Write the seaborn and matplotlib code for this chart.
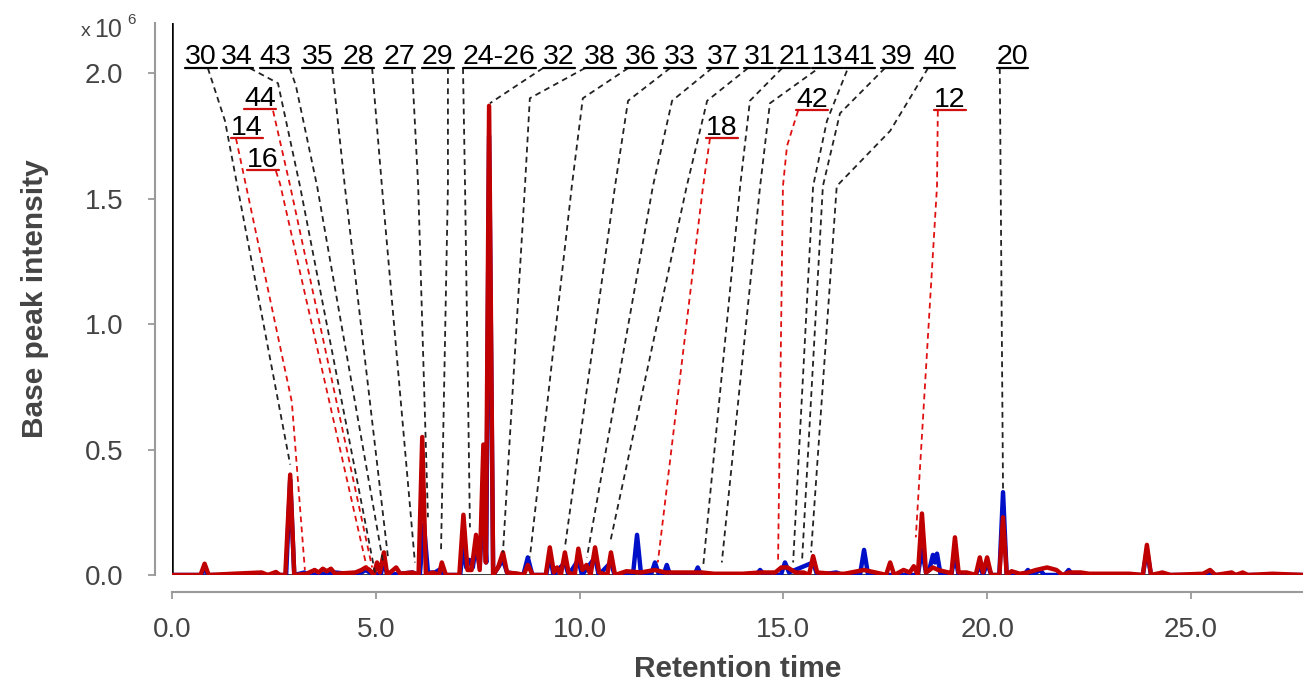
import matplotlib
matplotlib.use("Agg")
import matplotlib.pyplot as plt
import numpy as np
import pandas as pd
import seaborn as sns

# ---------------- data (intensity in 1e6) ----------------
red_time = [0.0, 0.70, 0.80, 0.90, 1.5, 2.2, 2.35, 2.55, 2.65, 2.78, 2.90, 3.00, 3.3, 3.50, 3.60, 3.70,
            3.80, 3.90, 4.00, 4.50, 4.65, 4.75, 4.85, 4.95, 5.03, 5.10, 5.20, 5.28, 5.50, 5.60, 5.90,
            6.05, 6.14, 6.23, 6.40, 6.55, 6.62, 6.72, 7.05, 7.15, 7.25, 7.35, 7.46, 7.55, 7.64, 7.70,
            7.78, 7.88, 8.00, 8.12, 8.22, 8.50, 8.63, 8.73, 8.85, 9.05, 9.17, 9.27, 9.37, 9.45, 9.54,
            9.64, 9.73, 9.88, 9.97, 10.07, 10.17, 10.27, 10.38, 10.48, 10.68, 10.77, 10.87, 11.15,
            11.5, 11.85, 12.1, 12.5, 13.0, 13.3, 14.0, 14.43, 14.8, 14.95, 15.1, 15.3, 15.5, 15.63,
            15.73, 15.83, 16.2, 16.5, 16.98, 17.4, 17.52, 17.62, 17.72, 17.95, 18.1, 18.2, 18.3,
            18.40, 18.50, 18.67, 18.8, 19.05, 19.12, 19.21, 19.3, 19.5, 19.72, 19.82, 19.9, 20.00,
            20.1, 20.3, 20.39, 20.48, 20.6, 20.8, 21.0, 21.2, 21.47, 21.7, 21.85, 22.0, 22.3, 22.5,
            23.5, 23.82, 23.92, 24.02, 24.3, 24.5, 25.3, 25.47, 25.6, 26.0, 26.1, 26.27, 26.4,
            27.0, 27.8]
red_int = [0.0, 0.0, 0.045, 0.0, 0.005, 0.01, 0.0, 0.012, 0.0, 0.0, 0.40, 0.0, 0.005, 0.02, 0.01, 0.025,
           0.015, 0.025, 0.005, 0.01, 0.02, 0.03, 0.02, 0.0, 0.05, 0.01, 0.09, 0.0, 0.03, 0.005, 0.01,
           0.0, 0.55, 0.0, 0.01, 0.0, 0.05, 0.0, 0.0, 0.24, 0.02, 0.02, 0.16, 0.02, 0.52, 0.05,
           1.87, 0.0, 0.03, 0.09, 0.01, 0.005, 0.0, 0.04, 0.0, 0.0, 0.0, 0.11, 0.01, 0.03, 0.0,
           0.09, 0.01, 0.0, 0.105, 0.02, 0.04, 0.0, 0.11, 0.01, 0.0, 0.09, 0.0, 0.015,
           0.01, 0.02, 0.01, 0.01, 0.01, 0.005, 0.005, 0.01, 0.01, 0.03, 0.03, 0.01, 0.01, 0.0,
           0.075, 0.01, 0.005, 0.005, 0.02, 0.005, 0.0, 0.05, 0.0, 0.02, 0.01, 0.035, 0.0,
           0.245, 0.01, 0.03, 0.02, 0.01, 0.0, 0.15, 0.01, 0.01, 0.0, 0.07, 0.01, 0.07,
           0.0, 0.0, 0.23, 0.0, 0.015, 0.005, 0.01, 0.02, 0.03, 0.02, 0.0, 0.01, 0.01, 0.005,
           0.005, 0.0, 0.12, 0.0, 0.01, 0.0, 0.005, 0.02, 0.0, 0.01, 0.0, 0.01, 0.0,
           0.005, 0.0]

blue_time = [0.0, 0.72, 0.80, 0.88, 2.80, 2.90, 3.00, 3.25, 3.35, 4.0, 4.3, 4.65, 4.75, 4.85, 5.12,
             5.20, 5.28, 5.9, 6.08, 6.18, 6.28, 6.45, 6.55, 6.65, 7.07, 7.15, 7.22, 7.30, 7.38, 7.46,
             7.55, 7.64, 7.71, 7.78, 7.88, 8.12, 8.22, 8.62, 8.73, 8.84, 9.18, 9.27, 9.36, 9.64, 9.73,
             9.97, 10.06, 10.38, 10.47, 10.77, 10.86, 11.31, 11.41, 11.51, 11.75, 11.85, 11.95, 12.06,
             12.14, 12.22, 12.82, 12.90, 12.98, 14.33, 14.43, 14.53, 14.94, 15.04, 15.14, 15.73, 15.83,
             16.3, 16.45, 16.88, 16.98, 17.08, 18.30, 18.40, 18.50, 18.58, 18.67, 18.72, 18.77, 18.86,
             19.12, 19.21, 19.30, 19.72, 19.82, 19.9, 20.0, 20.1, 20.30, 20.39, 20.48, 20.9, 21.0,
             21.1, 21.2, 21.3, 21.4, 21.9, 22.0, 22.1, 23.82, 23.92, 24.02, 25.37, 25.47, 25.57, 27.8]
blue_int = [0.0, 0.0, 0.03, 0.0, 0.0, 0.38, 0.0, 0.01, 0.0, 0.01, 0.005, 0.01, 0.02, 0.01, 0.0,
            0.06, 0.0, 0.01, 0.0, 0.20, 0.01, 0.01, 0.02, 0.0, 0.0, 0.12, 0.03, 0.06, 0.03, 0.12,
            0.03, 0.31, 0.05, 1.75, 0.0, 0.06, 0.01, 0.0, 0.07, 0.0, 0.0, 0.08, 0.0, 0.05, 0.0,
            0.06, 0.0, 0.07, 0.0, 0.05, 0.0, 0.0, 0.16, 0.0, 0.0, 0.05, 0.0, 0.0,
            0.04, 0.0, 0.0, 0.03, 0.0, 0.0, 0.02, 0.0, 0.0, 0.05, 0.01, 0.05, 0.0,
            0.01, 0.0, 0.0, 0.10, 0.0, 0.0, 0.10, 0.01, 0.02, 0.08, 0.05, 0.085, 0.0,
            0.0, 0.08, 0.0, 0.0, 0.04, 0.0, 0.05, 0.0, 0.0, 0.33, 0.0, 0.0, 0.02,
            0.0, 0.01, 0.02, 0.0, 0.0, 0.02, 0.0, 0.0, 0.10, 0.0, 0.0, 0.015, 0.0, 0.0]

x_ticks = [0, 5, 10, 15, 20, 25]
x_tick_labels = ["0.0", "5.0", "10.0", "15.0", "20.0", "25.0"]
y_ticks = [0.0, 0.5, 1.0, 1.5, 2.0]
y_tick_labels = ["0.0", "0.5", "1.0", "1.5", "2.0"]

# top row compound labels (centre time) -> leader polylines (time, intensity)
top_labels = ["30", "34", "43", "35", "28", "27", "29", "24-26", "32", "38", "36", "33", "37",
              "31", "21", "13", "41", "39", "40", "20"]
top_label_x = [0.71, 1.60, 2.54, 3.57, 4.57, 5.58, 6.52, 8.03, 9.50, 10.50, 11.50, 12.47, 13.51,
               14.43, 15.26, 16.08, 16.87, 17.78, 18.83, 20.62]
top_leaders = [
    [(0.88, 2.02), (1.30, 1.81), (2.90, 0.44)],
    [(1.91, 2.02), (2.60, 1.96), (3.14, 1.55), (4.98, 0.01)],
    [(2.89, 2.02), (3.04, 1.95), (3.56, 1.55), (5.18, 0.05)],
    [(3.93, 2.02), (4.24, 1.55), (5.30, 0.07)],
    [(4.91, 2.02), (5.15, 1.55), (5.96, 0.05)],
    [(5.89, 2.02), (6.04, 1.55), (6.28, 0.23)],
    [(6.77, 2.02), (6.77, 1.55), (6.60, 0.09)],
    [(7.14, 2.02), (7.19, 1.55), (7.31, 0.19)],
    [(9.10, 2.02), (7.80, 1.88)],
    [(10.13, 2.02), (8.78, 1.90), (8.66, 1.55), (8.12, 0.09)],
    [(11.19, 2.02), (10.08, 1.90), (9.81, 1.55), (8.78, 0.07)],
    [(12.22, 2.02), (11.19, 1.89), (10.87, 1.55), (9.64, 0.11)],
    [(13.25, 2.02), (12.27, 1.89), (11.80, 1.55), (10.18, 0.07)],
    [(14.13, 2.02), (13.13, 1.89), (12.63, 1.55), (10.75, 0.13)],
    [(14.97, 2.02), (14.18, 1.89), (13.94, 1.55), (13.03, 0.03)],
    [(15.78, 2.01), (14.67, 1.88), (14.43, 1.55), (13.49, 0.05)],
    [(16.56, 2.01), (16.07, 1.81), (15.73, 1.55), (15.24, 0.05)],
    [(17.49, 2.02), (16.39, 1.84), (15.97, 1.55), (15.46, 0.06)],
    [(18.55, 2.02), (17.62, 1.77), (16.31, 1.55), (15.68, 0.09)],
    [(20.31, 2.02), (20.39, 0.34)],
]

sub_labels = ["44", "14", "16", "18", "42", "12"]
sub_label_x = [2.16, 1.84, 2.23, 13.49, 15.70, 19.09]
sub_label_y = [1.857, 1.741, 1.614, 1.741, 1.853, 1.853]
sub_leaders = [
    [(2.48, 1.85), (2.90, 1.55), (4.91, 0.03)],
    [(1.57, 1.74), (2.94, 0.69), (3.26, 0.02)],
    [(2.55, 1.61), (2.65, 1.56), (4.78, 0.03)],
    [(13.20, 1.74), (13.03, 1.55), (11.92, 0.05)],
    [(15.36, 1.85), (15.09, 1.71), (14.99, 1.55), (14.87, 0.05)],
    [(18.79, 1.85), (18.77, 1.55), (18.25, 0.15)],
]

# ---------------- figure ----------------
sns.set_style("ticks")
plt.rcParams["font.family"] = ["Liberation Sans", "DejaVu Sans"]

W, H = 1303, 684
fig = plt.figure(figsize=(W / 100, H / 100), dpi=100)
ax = fig.add_axes([172 / W, 109 / H, (W - 172) / W, (661 - 109) / H])

df = pd.concat([
    pd.DataFrame({"time": blue_time, "intensity": blue_int, "trace": "A"}),
    pd.DataFrame({"time": red_time, "intensity": red_int, "trace": "B"}),
], ignore_index=True)

sns.lineplot(data=df, x="time", y="intensity", hue="trace", hue_order=["A", "B"],
             palette={"A": "#0010C8", "B": "#C00000"}, linewidth=3.2, legend=False,
             estimator=None, ax=ax, solid_joinstyle="round", solid_capstyle="round")

xmax = 27.75
ax.set_xlim(0, xmax)
ax.set_ylim(0, 2.2)

# black inner frame (left + bottom)
ax.axvline(0, color="black", lw=1.8, zorder=1)
ax.axhline(0, color="black", lw=1.8, zorder=1)

sns.despine(ax=ax, offset=12)
grey = "#9a9a9a"
for s in ("left", "bottom"):
    ax.spines[s].set_color(grey)
    ax.spines[s].set_linewidth(1.5)
ax.set_xticks(x_ticks)
ax.set_xticklabels(x_tick_labels)
ax.set_yticks(y_ticks)
ax.set_yticklabels(y_tick_labels)
ax.tick_params(axis="y", left=True, direction="out", length=5, width=1.3, color=grey,
               labelsize=20, labelcolor="#444444", pad=18)
ax.tick_params(axis="x", bottom=True, direction="out", length=5, width=1.3, color=grey,
               labelsize=20, labelcolor="#444444", pad=13)
ax.set_xlabel("Retention time", fontsize=21.5, fontweight="bold", color="#444444", labelpad=9)
ax.set_ylabel("Base peak intensity", fontsize=21.5, fontweight="bold", color="#444444", labelpad=26)

# x10^6
fig.text(86 / W, 1 - 31 / H, "x", fontsize=14, color="#444444", ha="center", va="center")
fig.text(108 / W, 1 - 30 / H, "10", fontsize=18, color="#444444", ha="center", va="center")
fig.text(131 / W, 1 - 20 / H, "6", fontsize=11, color="#444444", ha="center", va="center")

dash = (0, (3.2, 2.4))
texts = []
for lab, x in zip(top_labels, top_label_x):
    t = ax.text(x, 2.036, lab, fontsize=20.5, ha="center", va="baseline", color="black", clip_on=False)
    texts.append((t, 2.02, "black"))
for lab, x, y in zip(sub_labels, sub_label_x, sub_label_y):
    t = ax.text(x, y + 0.012, lab, fontsize=20.5, ha="center", va="baseline", color="black", clip_on=False)
    texts.append((t, y, "#D01010"))

for pts in top_leaders:
    xs, ys = zip(*pts)
    ax.plot(xs, ys, color="#222222", lw=1.3, ls=dash, clip_on=False, zorder=3)
for pts in sub_leaders:
    xs, ys = zip(*pts)
    ax.plot(xs, ys, color="#E01010", lw=1.3, ls=dash, clip_on=False, zorder=3)

fig.canvas.draw()
renderer = fig.canvas.get_renderer()
inv = ax.transData.inverted()
for t, uy, col in texts:
    bb = t.get_window_extent(renderer)
    (x0, _), (x1, _) = inv.transform([(bb.x0, bb.y0), (bb.x1, bb.y0)])
    ax.plot([x0, x1], [uy, uy], color=col, lw=1.6, clip_on=False, zorder=3)

fig.savefig("out.png", dpi=100)
